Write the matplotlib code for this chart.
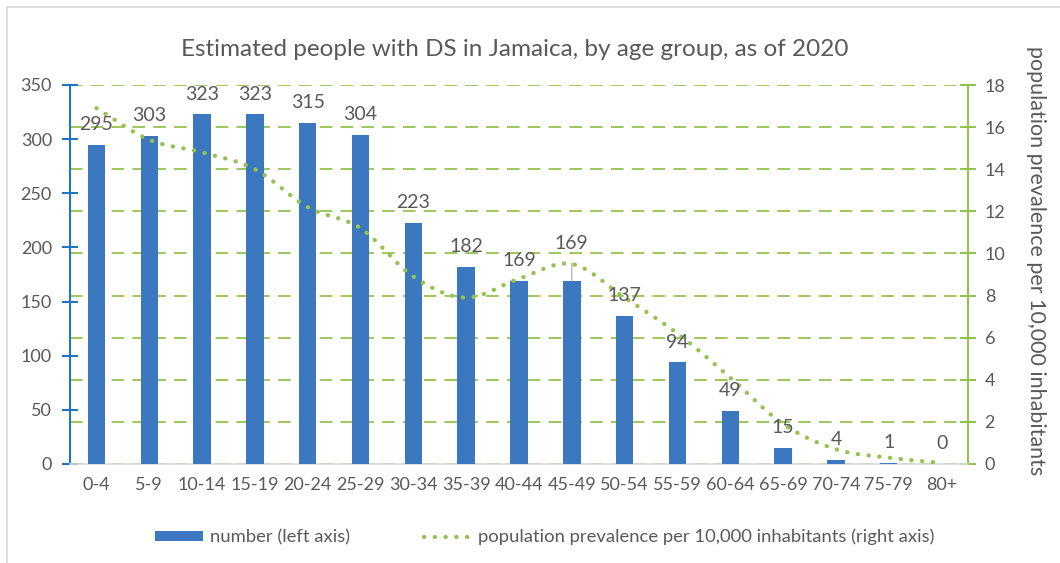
import numpy as np
import matplotlib
matplotlib.use("Agg")
import matplotlib.pyplot as plt
from matplotlib.patches import Patch
from matplotlib.lines import Line2D

plt.rcParams['font.family'] = ['Lato', 'DejaVu Sans']

age_groups = ["0-4", "5-9", "10-14", "15-19", "20-24", "25-29", "30-34", "35-39",
              "40-44", "45-49", "50-54", "55-59", "60-64", "65-69", "70-74", "75-79", "80+"]
counts = [295, 303, 323, 323, 315, 304, 223, 182, 169, 169, 137, 94, 49, 15, 4, 1, 0]
prevalence = [16.9, 15.4, 14.8, 14.0, 12.2, 11.2, 8.9, 7.9, 8.8, 9.5, 7.9, 6.2, 4.1,
              1.9, 0.7, 0.3, 0.05]
left_ticks = [0, 50, 100, 150, 200, 250, 300, 350]
right_ticks = [0, 2, 4, 6, 8, 10, 12, 14, 16, 18]

TXT = '#595959'
BLUE = '#3C78BF'
GREEN = '#92C44F'
DOTS = (0, (0.05, 2.45))

W, H = 1060, 563
fig = plt.figure(figsize=(W / 100, H / 100), dpi=100)
ax = fig.add_axes([70 / W, 1 - 464 / H, (968 - 70) / W, (464 - 85) / H])
ax2 = ax.twinx()

x = np.arange(len(age_groups))
ax.bar(x, counts, width=0.33, color=BLUE, zorder=3)
ax.set_xlim(-0.5, len(age_groups) - 0.5)
ax.set_ylim(0, 350)
ax.set_yticks(left_ticks)
ax.set_xticks(x)
ax.set_xticklabels(age_groups)

ax2.set_ylim(0, 18)
ax2.set_yticks(right_ticks)
ax2.grid(axis='y', color='#9DC75C', linestyle=(0, (6.5, 4.2)), linewidth=1.4)
ax2.set_axisbelow(True)


def smooth(xs, ys, yscale, n=20):
    xs = np.asarray(xs, float)
    ys = np.asarray(ys, float) * yscale
    P = np.column_stack([xs, ys])
    P = np.vstack([P[0] * 2 - P[1], P, P[-1] * 2 - P[-2]])
    out = []
    for i in range(1, len(P) - 2):
        p0, p1, p2, p3 = P[i - 1], P[i], P[i + 1], P[i + 2]
        t = np.linspace(0, 1, n, endpoint=False)[:, None]
        seg = 0.5 * ((2 * p1) + (-p0 + p2) * t + (2 * p0 - 5 * p1 + 4 * p2 - p3) * t ** 2
                     + (-p0 + 3 * p1 - 3 * p2 + p3) * t ** 3)
        out.append(seg)
    out.append(P[-2][None, :])
    out = np.vstack(out)
    return out[:, 0], out[:, 1] / yscale


ax.set_zorder(ax2.get_zorder() + 1)
ax.patch.set_visible(False)
sx, sy = smooth(x, prevalence, yscale=(379 / 18) / 52.8)
ax.plot(sx, sy, color=GREEN, linewidth=3.1, linestyle=DOTS,
        dash_capstyle='round', transform=ax2.transData, zorder=4)

# data labels
for i, c in enumerate(counts):
    if age_groups[i] == "45-49":
        ax.annotate(str(c), (i, c), xytext=(0, 27), textcoords='offset points',
                    ha='center', va='center', fontsize=14, color=TXT, zorder=5)
        ax.annotate('', (i, c), xytext=(0, 13), textcoords='offset points',
                    arrowprops=dict(arrowstyle='-', color='#A6A6A6', lw=0.8,
                                    shrinkA=0, shrinkB=0), zorder=5)
    else:
        ax.annotate(str(c), (i, c), xytext=(0, 14.5), textcoords='offset points',
                    ha='center', va='center', fontsize=14, color=TXT, zorder=5)

# spines
ax.spines['top'].set_visible(False)
ax2.spines['top'].set_visible(False)
ax.spines['right'].set_visible(False)
ax2.spines['left'].set_visible(False)
ax2.spines['bottom'].set_visible(False)
ax.spines['left'].set_color('#1F74C4')
ax.spines['left'].set_linewidth(1.5)
ax2.spines['right'].set_color(GREEN)
ax2.spines['right'].set_linewidth(1.5)
ax.spines['bottom'].set_color('#D9D9D9')
ax.spines['bottom'].set_linewidth(1.2)

ax.tick_params(axis='y', direction='inout', length=12, width=1.5, color='#1F74C4',
               labelcolor=TXT, labelsize=13, pad=7)
ax.tick_params(axis='x', length=0, labelcolor=TXT, labelsize=13, pad=9)
ax2.tick_params(axis='y', direction='inout', length=12, width=1.5, color=GREEN,
                labelcolor=TXT, labelsize=13, pad=6)
ax2.set_ylabel('population prevalence per 10,000 inhabitants', rotation=270,
               color=TXT, fontsize=15.5, va='center')
ax2.yaxis.set_label_coords((1036 - 70) / (968 - 70), (464 - 261) / (464 - 85))

fig.text(515 / W, 1 - 50 / H, 'Estimated people with DS in Jamaica, by age group, as of 2020',
         ha='center', va='center', fontsize=17.5, color=TXT)

handles = [Patch(facecolor=BLUE, edgecolor='none'),
           Line2D([0], [0], color=GREEN, linewidth=3.1, linestyle=DOTS,
                  dash_capstyle='round')]
fig.legend(handles, ['number (left axis)',
                     'population prevalence per 10,000 inhabitants (right axis)'],
           loc='center', bbox_to_anchor=(545 / W, 1 - 537 / H), ncol=2, frameon=False,
           fontsize=13.3, labelcolor=TXT, handlelength=2.6, handleheight=0.45,
           columnspacing=4.0, handletextpad=0.35)

# chart border
fig.add_artist(Line2D([7 / W, 7 / W], [0, 1 - 7 / H], color='#D9D9D9', lw=1.2,
                      transform=fig.transFigure))
fig.add_artist(Line2D([7 / W, 1], [1 - 7 / H, 1 - 7 / H], color='#D9D9D9', lw=1.2,
                      transform=fig.transFigure))

fig.savefig('out.png', dpi=100)
